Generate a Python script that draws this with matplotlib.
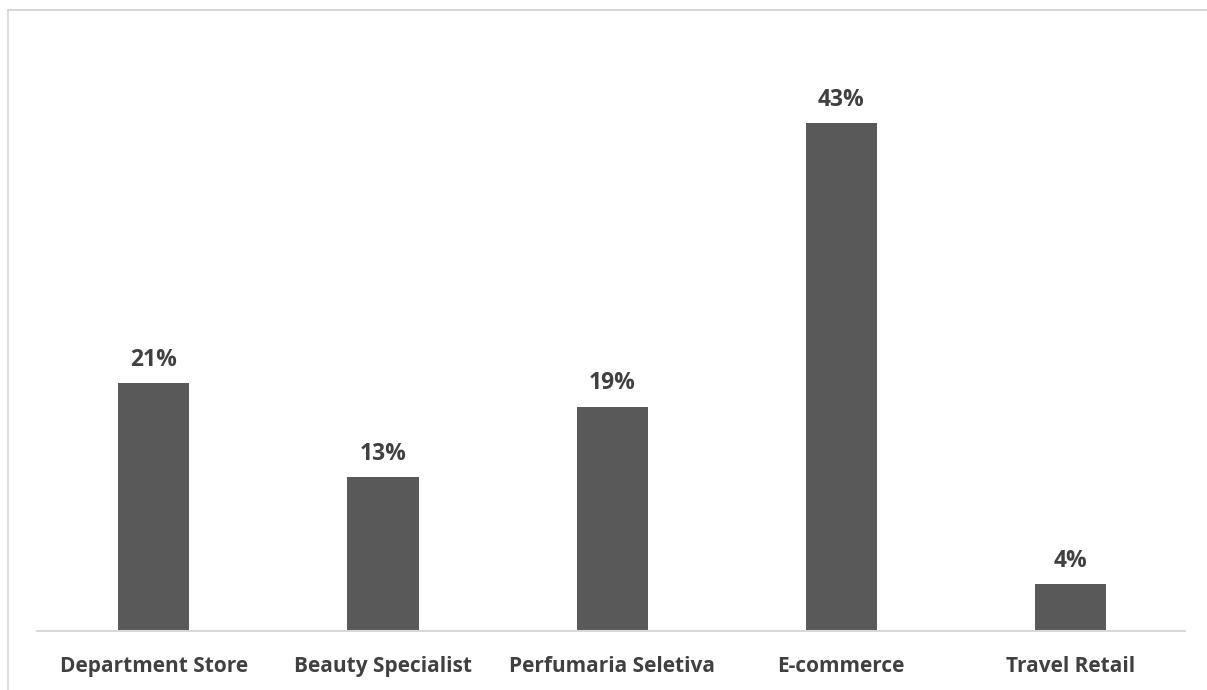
import matplotlib.pyplot as plt
from matplotlib.lines import Line2D

channels = ["Department Store", "Beauty Specialist", "Perfumaria Seletiva", "E-commerce", "Travel Retail"]
shares = [21, 13, 19, 43, 4]

W, H = 1207, 690
plt.rcParams['font.family'] = ['Open Sans', 'DejaVu Sans']

fig = plt.figure(figsize=(W / 100, H / 100), dpi=100)
# axes placed in pixel terms: baseline at y=631, axis line from x=37 to x=1185
ax = fig.add_axes([37 / W, (H - 631) / H, 1148 / W, 590.5 / H])

x = range(len(shares))
ax.bar(x, shares, width=0.31, color="#595959", zorder=2)
for xi, v in zip(x, shares):
    ax.annotate(f"{v}%", (xi, v), xytext=(0, 8), textcoords="offset points",
                ha="center", va="bottom", fontsize=16.5, fontweight="bold", color="#404040")

ax.set_xlim(-0.51, 4.5)
ax.set_ylim(0, 50)
ax.set_xticks(list(x))
ax.set_xticklabels(channels, fontsize=15, fontweight="bold", color="#404040")
ax.tick_params(axis="x", length=0, pad=18)
ax.set_yticks([])
for side in ["top", "right", "left"]:
    ax.spines[side].set_visible(False)
ax.spines["bottom"].set_color("#d9d9d9")
ax.spines["bottom"].set_linewidth(1.5)

# thin frame along the top and left edges
fig.add_artist(Line2D([7.5 / W, 1], [1 - 9.5 / H, 1 - 9.5 / H], color="#cfcfcf", lw=1.2, transform=fig.transFigure))
fig.add_artist(Line2D([7.5 / W, 7.5 / W], [0, 1 - 9.5 / H], color="#d6d6d6", lw=1.2, transform=fig.transFigure))

fig.savefig("out.png", dpi=100)
